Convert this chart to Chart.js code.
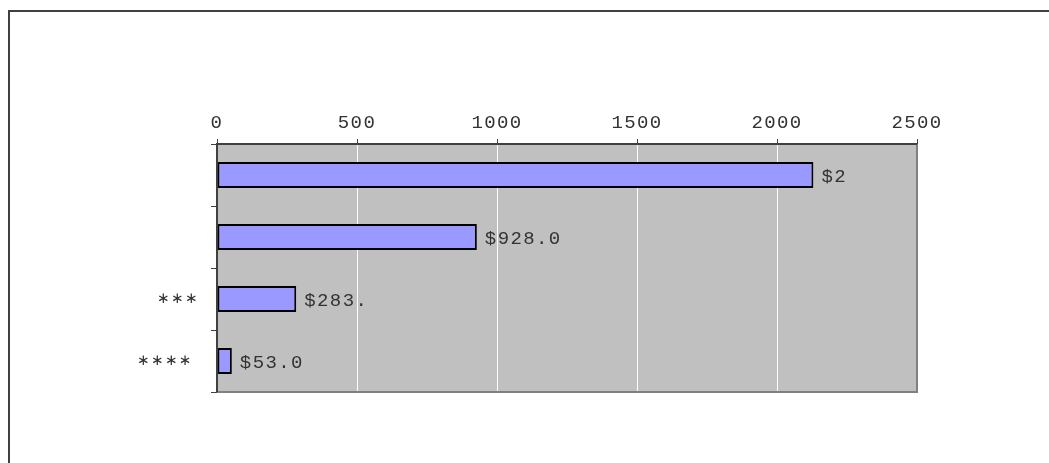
<!DOCTYPE html>
<html>
<head>
<meta charset="utf-8">
<script src="https://cdn.jsdelivr.net/npm/chart.js@4"></script>
<style>
  html, body { margin: 0; padding: 0; background: #fff; }
  #wrap { width: 1049px; height: 463px; position: relative; }
</style>
</head>
<body>
<div id="wrap"><canvas id="chart" width="1049" height="463"></canvas></div>
<script>
// values
const categories = ["", "", "\u2217\u2217\u2217", "\u2217\u2217\u2217\u2217 "];
const amounts = [2130, 928, 283, 53];
const valueLabels = ["$2", "$928.0", "$283.", "$53.0"];
const xTicks = [0, 500, 1000, 1500, 2000, 2500];

const FONT = "Liberation Mono";
const SIZE = 19;
const SPACING = "1.4px";

// letter spacing on every text the chart draws
const spacingPlugin = {
  id: "spacing",
  beforeLayout(chart) { chart.ctx.letterSpacing = SPACING; },
  beforeDraw(chart) { chart.ctx.letterSpacing = SPACING; },
};

// grey plot background + outer frame
const frame = {
  id: "frame",
  beforeDraw(chart) {
    const { ctx, chartArea: a } = chart;
    ctx.save();
    ctx.fillStyle = "#c0c0c0";
    ctx.fillRect(a.left, a.top, a.right - a.left, a.bottom - a.top);
    // outer box, runs off the right and bottom edge
    ctx.strokeStyle = "#404040";
    ctx.lineWidth = 2;
    ctx.strokeRect(9, 11, 1200, 600);
    ctx.restore();
  },
  afterDatasetsDraw(chart) {
    const { ctx, chartArea: a } = chart;
    ctx.save();
    // right + bottom edge of plot, grey
    ctx.strokeStyle = "#808080";
    ctx.lineWidth = 2;
    ctx.beginPath();
    ctx.moveTo(a.right, a.top);
    ctx.lineTo(a.right, a.bottom);
    ctx.lineTo(a.left, a.bottom);
    ctx.stroke();
    // top + left edge, dark
    ctx.strokeStyle = "#404040";
    ctx.lineWidth = 2;
    ctx.beginPath();
    ctx.moveTo(a.right, a.top);
    ctx.lineTo(a.left, a.top);
    ctx.lineTo(a.left, a.bottom);
    ctx.stroke();

    // value labels at bar ends
    const meta = chart.getDatasetMeta(0);
    ctx.letterSpacing = SPACING;
    ctx.font = SIZE + "px '" + FONT + "'";
    ctx.fillStyle = "#333";
    ctx.textBaseline = "middle";
    ctx.textAlign = "left";
    meta.data.forEach((bar, i) => {
      ctx.fillText(valueLabels[i], bar.x + 8, bar.y + 2);
    });
    ctx.restore();
  },
};

new Chart(document.getElementById("chart"), {
  type: "bar",
  data: {
    labels: categories,
    datasets: [{
      data: amounts,
      backgroundColor: "#9999ff",
      borderColor: "#000",
      borderWidth: 2,
      borderSkipped: false,
      categoryPercentage: 1,
      barPercentage: 0.42,
    }],
  },
  options: {
    indexAxis: "y",
    responsive: false,
    animation: false,
    layout: { padding: { left: 0, top: 0, right: 132, bottom: 71 } },
    plugins: {
      legend: { display: false },
      tooltip: { enabled: false },
    },
    scales: {
      x: {
        position: "top",
        min: 0,
        max: 2500,
        afterBuildTicks(scale) { scale.ticks = xTicks.map((v) => ({ value: v })); },
        afterFit(scale) { scale.height = 144; },
        grid: { color: "#ffffff", tickColor: "#404040", tickLength: 5, lineWidth: 1 },
        border: { display: false },
        ticks: {
          color: "#333",
          padding: 5,
          font: { family: FONT, size: SIZE },
          callback: (v) => String(v),
        },
      },
      y: {
        afterFit(scale) { scale.width = 217; },
        grid: { drawOnChartArea: false, offset: true, tickColor: "#404040", tickLength: 6 },
        border: { display: false },
        ticks: { color: "#333", padding: 12, font: { family: "DejaVu Sans", size: 15 } },
      },
    },
  },
  plugins: [spacingPlugin, frame],
});
</script>
</body>
</html>
